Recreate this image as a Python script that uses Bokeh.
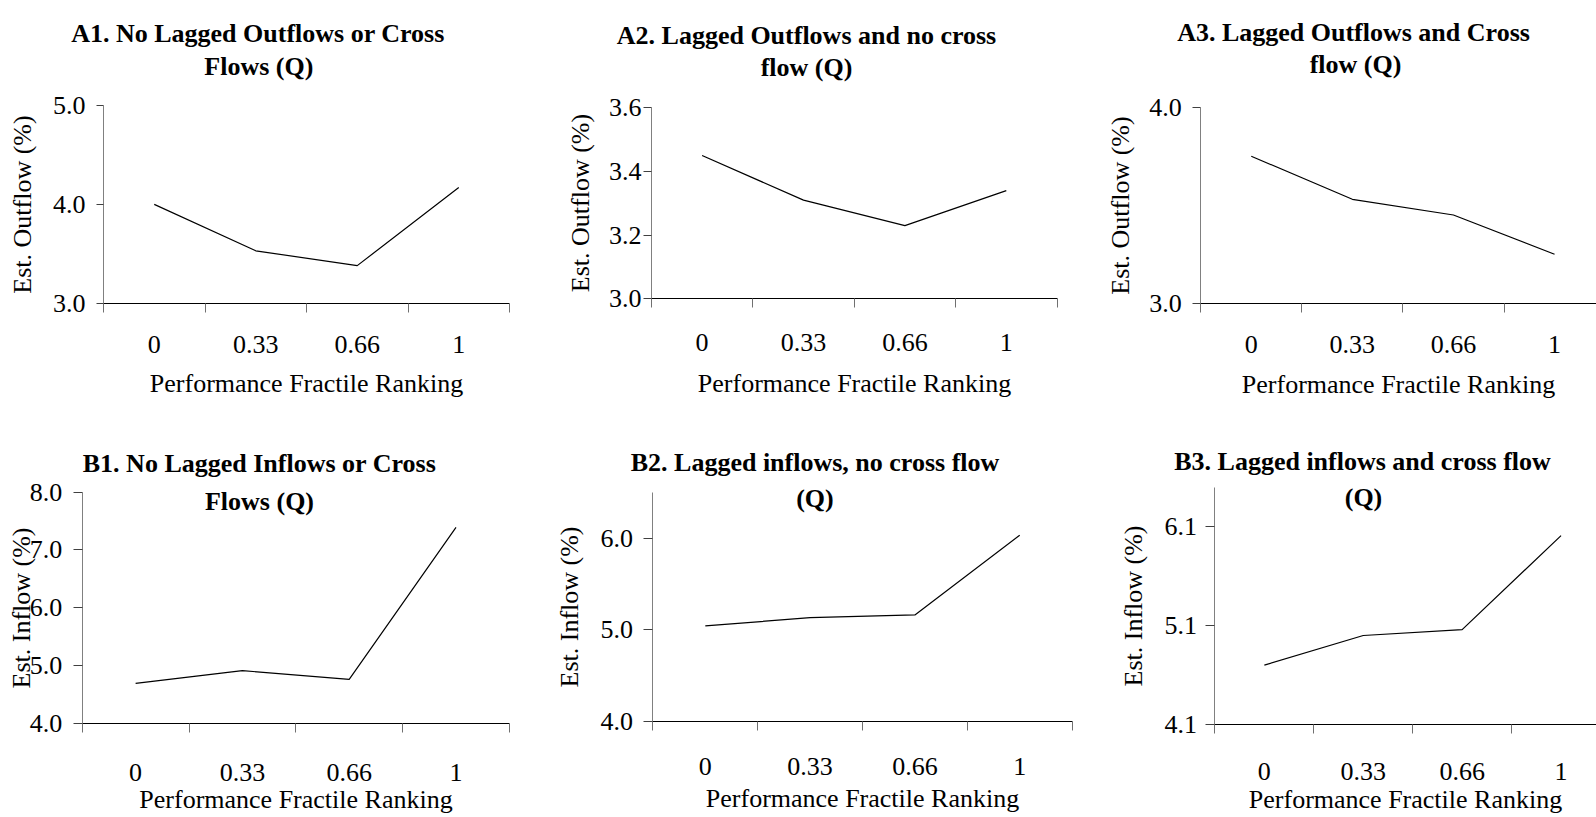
from bokeh.plotting import figure
from bokeh.layouts import column, row
from bokeh.models import Range1d, FixedTicker, NumeralTickFormatter, Label
from bokeh.embed import file_html
from bokeh.resources import INLINE

# ---------------- data ----------------
categories = ["0", "0.33", "0.66", "1"]
x_axis_title = "Performance Fractile Ranking"

a1_outflow = [4.00, 3.53, 3.38, 4.17]
a2_outflow = [3.45, 3.31, 3.23, 3.34]
a3_outflow = [3.75, 3.53, 3.45, 3.25]
b1_inflow = [4.69, 4.91, 4.76, 7.39]
b2_inflow = [5.04, 5.13, 5.16, 6.03]
b3_inflow = [4.70, 5.00, 5.06, 6.01]

a1_title = ["A1. No Lagged Outflows or Cross", "Flows (Q)"]
a2_title = ["A2. Lagged Outflows and no cross", "flow (Q)"]
a3_title = ["A3. Lagged Outflows and Cross", "flow (Q)"]
b1_title = ["B1. No Lagged Inflows or Cross", "Flows (Q)"]
b2_title = ["B2. Lagged inflows, no cross flow", "(Q)"]
b3_title = ["B3. Lagged inflows and cross flow", "(Q)"]

a_y_label = "Est. Outflow (%)"
b_y_label = "Est. Inflow (%)"

a1_yrange = (3.0, 5.0)
a2_yrange = (3.0, 3.6)
a3_yrange = (3.0, 4.0)
b1_yrange = (4.0, 8.0)
b2_yrange = (4.0, 6.5)
b3_yrange = (4.1, 6.5)

a1_yticks = [3.0, 4.0, 5.0]
a2_yticks = [3.0, 3.2, 3.4, 3.6]
a3_yticks = [3.0, 4.0]
b1_yticks = [4.0, 5.0, 6.0, 7.0, 8.0]
b2_yticks = [4.0, 5.0, 6.0]
b3_yticks = [4.1, 5.1, 6.1]

FONT = "Liberation Serif"
FS = "26px"


def panel(values, yticks, yrange, title, ylabel, box, axes, ystyle, xstyle, tpos):
    # box: figure placement on the page (left, top, width, height)
    # axes: page pixel positions of y-axis x, category spacing, y top, y bottom
    L, T, W, H = box
    AX, S, YT, YB = axes
    ymin, ymax = yrange
    n = len(categories)
    xs = [i + 1 for i in range(n)]
    x0 = 0.5 - (AX - L) / S
    k = (YB - YT) / (ymax - ymin)
    p = figure(width=W, height=H, output_backend="svg", toolbar_location=None,
               tools="",
               x_range=Range1d(x0, x0 + W / S),
               y_range=Range1d(ymin - (T + H - YB) / k, ymax + (YT - T) / k),
               min_border=0, min_border_left=0, min_border_right=0,
               min_border_top=0, min_border_bottom=0)
    p.title = None
    p.outline_line_color = None
    p.xgrid.visible = False
    p.ygrid.visible = False
    p.background_fill_color = "white"
    p.border_fill_color = "white"

    p.line(xs, values, line_color="black", line_width=1.2)

    ytick_out, ylab_standoff, yaxlab_standoff = ystyle
    xlab_standoff, xaxlab_standoff = xstyle

    xa = p.xaxis[0]
    xa.fixed_location = ymin
    xa.bounds = (0.5, n + 0.5)
    xa.ticker = FixedTicker(ticks=xs, minor_ticks=[i + 0.5 for i in range(n + 1)])
    xa.major_label_overrides = {x: c for x, c in zip(xs, categories)}
    xa.major_tick_out = 0
    xa.major_tick_in = 0
    xa.minor_tick_out = 9
    xa.minor_tick_in = 0
    xa.minor_tick_line_color = "#707070"
    xa.axis_line_color = "black"
    xa.major_label_text_font = FONT
    xa.major_label_text_font_size = FS
    xa.major_label_text_color = "black"
    xa.major_label_standoff = xlab_standoff
    xa.axis_label = x_axis_title
    xa.axis_label_text_font = FONT
    xa.axis_label_text_font_size = FS
    xa.axis_label_text_font_style = "normal"
    xa.axis_label_text_color = "black"
    xa.axis_label_standoff = xaxlab_standoff

    ya = p.yaxis[0]
    ya.fixed_location = 0.5
    ya.bounds = (ymin, ymax)
    ya.ticker = FixedTicker(ticks=yticks, minor_ticks=[])
    ya.formatter = NumeralTickFormatter(format="0.0")
    ya.major_tick_out = ytick_out
    ya.major_tick_in = 0
    ya.minor_tick_out = 0
    ya.minor_tick_in = 0
    ya.major_tick_line_color = "#404040"
    ya.axis_line_color = "#808080"
    ya.major_label_text_font = FONT
    ya.major_label_text_font_size = FS
    ya.major_label_text_color = "black"
    ya.major_label_standoff = ylab_standoff
    ya.axis_label = ylabel
    ya.axis_label_text_font = FONT
    ya.axis_label_text_font_size = FS
    ya.axis_label_text_font_style = "normal"
    ya.axis_label_text_color = "black"
    ya.axis_label_standoff = yaxlab_standoff

    for txt, (px, py) in zip(title, tpos):
        p.add_layout(Label(x=px - L, y=(T + H) - py, x_units="screen", y_units="screen",
                           text=txt, text_font=FONT, text_font_size=FS,
                           text_font_style="bold", text_color="black",
                           text_align="center", text_baseline="alphabetic"))
    return p


A1 = panel(a1_outflow, a1_yticks, a1_yrange, a1_title, a_y_label,
           (0, 0, 558, 405), (103, 101.5, 105, 302.7),
           (7, 11, 13), (24, 12),
           [(257.5, 33.3), (258.3, 65.7)])
A2 = panel(a2_outflow, a2_yticks, a2_yrange, a2_title, a_y_label,
           (558, 0, 547, 405), (650.9, 101.4, 107.3, 298.3),
           (8, 2, 11), (26, 15),
           [(806, 35), (806, 66.7)])
A3 = panel(a3_outflow, a3_yticks, a3_yrange, a3_title, a_y_label,
           (1105, 0, 491, 405), (1200.2, 101.1, 106.7, 302.7),
           (8, 11, 11), (24, 13),
           [(1353, 32.3), (1355, 64.3)])
B1 = panel(b1_inflow, b1_yticks, b1_yrange, b1_title, b_y_label,
           (0, 405, 553, 411), (81.7, 106.8, 491.7, 722.7),
           (9, 11, -9), (32, 0),
           [(259, 463.3), (259, 500.7)])
B2 = panel(b2_inflow, b2_yticks, b2_yrange, b2_title, b_y_label,
           (553, 405, 557, 411), (652.4, 104.8, 491.7, 720.7),
           (9, 11, 13), (28, 5),
           [(814.5, 461.7), (814.4, 498.3)])
B3 = panel(b3_inflow, b3_yticks, b3_yrange, b3_title, b_y_label,
           (1110, 405, 486, 411), (1214.4, 98.9, 486.7, 724),
           (9, 9, 13), (29, 2),
           [(1362, 460.7), (1363, 497.3)])

layout = column(row(A1, A2, A3), row(B1, B2, B3))

open("out.html", "w").write(file_html(layout, INLINE))
